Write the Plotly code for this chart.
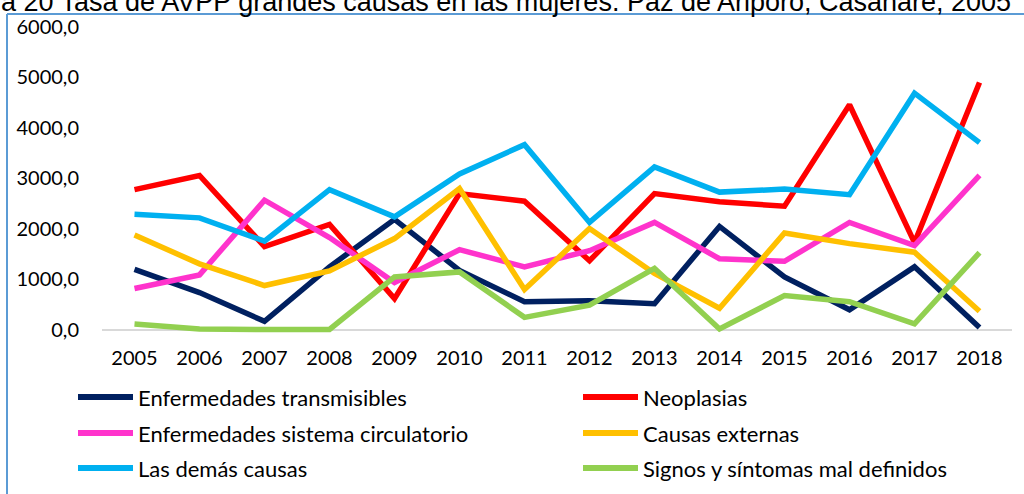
import plotly.graph_objects as go

years = [str(y) for y in range(2005, 2019)]

transmisibles = [1200, 740, 170, 1250, 2190, 1180, 560, 580, 520, 2050, 1050, 400, 1250, 50]
neoplasias = [2780, 3060, 1650, 2090, 620, 2700, 2550, 1370, 2700, 2540, 2450, 4460, 1730, 4900]
circulatorio = [820, 1090, 2570, 1830, 940, 1590, 1250, 1570, 2130, 1410, 1360, 2130, 1670, 3060]
externas = [1880, 1310, 880, 1170, 1810, 2800, 800, 2010, 1120, 430, 1920, 1710, 1540, 370]
demas = [2290, 2220, 1760, 2780, 2240, 3090, 3670, 2130, 3230, 2730, 2790, 2680, 4690, 3710]
signos = [120, 20, 10, 10, 1050, 1150, 250, 490, 1220, 20, 680, 560, 120, 1530]

names = ["Enfermedades transmisibles", "Neoplasias",
         "Enfermedades sistema circulatorio", "Causas externas",
         "Las demás causas", "Signos y síntomas mal definidos"]
values = [transmisibles, neoplasias, circulatorio, externas, demas, signos]
colors = ["#002060", "#FF0000", "#FF33CC", "#FFC000", "#00B0F0", "#92D050"]

title_text = "a 20 Tasa de AVPP grandes causas en las mujeres. Paz de Ariporo, Casanare, 2005"

W, H = 1024, 494
L, R, T, B = 102, 12, 27, 160
pw, ph = W - L - R, H - T - B


def px(x):
    return (x - L) / pw


def py(y):
    return (H - B - y) / ph


fig = go.Figure()
for name, vals, color in zip(names, values, colors):
    fig.add_trace(go.Scatter(
        x=years, y=vals, name=name, mode="lines",
        line=dict(color=color, width=5.5), showlegend=False,
    ))

shapes = [
    dict(type="line", xref="paper", yref="paper", x0=px(7), x1=px(1030),
         y0=py(14), y1=py(14), line=dict(color="#5B9BD5", width=2)),
    dict(type="line", xref="paper", yref="paper", x0=px(7), x1=px(7),
         y0=py(14), y1=py(500), line=dict(color="#5B9BD5", width=2)),
]
annotations = [
    dict(text=title_text, xref="paper", yref="paper", x=px(-1), y=py(2),
         xanchor="left", yanchor="middle", showarrow=False,
         font=dict(family="Liberation Sans, Arial, sans-serif", size=27, color="#000000")),
]

# custom two-column legend
col_x = [78, 583]
row_y = [397, 433, 468]
for i, (name, color) in enumerate(zip(names, colors)):
    cx = col_x[i % 2]
    ry = row_y[i // 2]
    shapes.append(dict(type="line", xref="paper", yref="paper",
                       x0=px(cx), x1=px(cx + 55), y0=py(ry), y1=py(ry),
                       line=dict(color=color, width=6)))
    annotations.append(dict(text=name, xref="paper", yref="paper",
                            x=px(cx + 58), y=py(ry), xanchor="left", yanchor="middle",
                            showarrow=False, font=dict(size=22, color="#000000")))

fig.update_layout(
    width=W, height=H,
    margin=dict(l=L, r=R, t=T, b=B, autoexpand=False),
    paper_bgcolor="white", plot_bgcolor="white",
    separators=",.",
    font=dict(family="Lato, Liberation Sans, sans-serif", size=20, color="#000000"),
    showlegend=False,
    xaxis=dict(
        type="category", range=[-0.5, 13.5], showgrid=False, showline=False,
        zeroline=False, ticks="", ticklabelstandoff=10,
        tickfont=dict(size=20),
    ),
    yaxis=dict(
        range=[-80, 6000], tickvals=[0, 1000, 2000, 3000, 4000, 5000, 6000],
        tickformat=".1f", showgrid=False, zeroline=True, zerolinecolor="#D9D9D9",
        zerolinewidth=2, showline=False, ticks="", ticklabelstandoff=22,
        tickfont=dict(size=20),
    ),
    shapes=shapes,
    annotations=annotations,
)

fig.write_html("out.html", config={"displayModeBar": False},
               post_script="document.body.style.margin='0px';document.body.style.overflow='hidden';")
